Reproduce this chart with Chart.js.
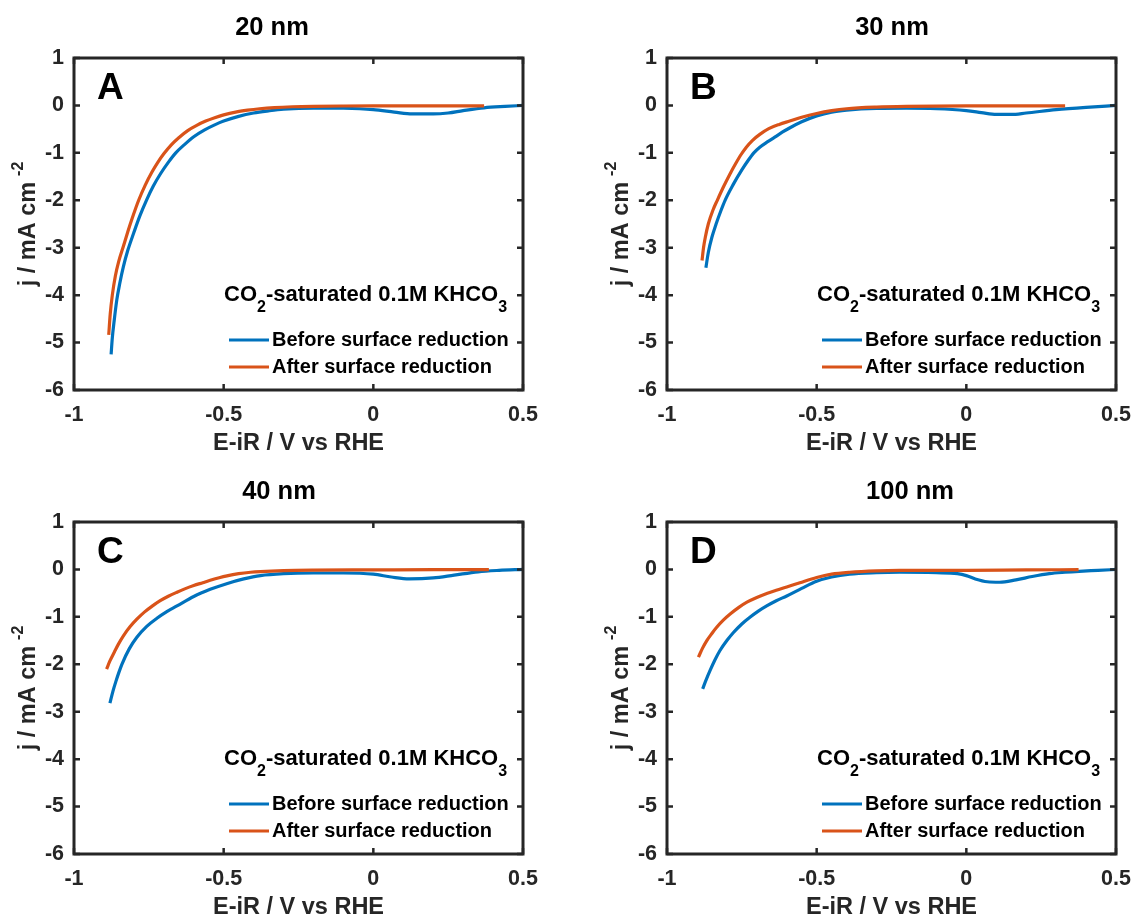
<!DOCTYPE html>
<html>
<head>
<meta charset="utf-8">
<title>Linear sweep voltammetry before and after surface reduction</title>
<script src="https://cdn.jsdelivr.net/npm/chart.js@4.4.1/dist/chart.umd.min.js"></script>
<style>
  html, body { margin: 0; padding: 0; background: #fff; }
  body { position: relative; width: 1135px; height: 919px; overflow: hidden; }
  .panel { position: absolute; width: 580px; height: 470px; }
  .panel canvas { display: block; }
</style>
</head>
<body>
<div class="panel" style="left:-26px; top:-2px;"><canvas id="panelA" width="580" height="470"></canvas></div>
<div class="panel" style="left:567px; top:-2px;"><canvas id="panelB" width="580" height="470"></canvas></div>
<div class="panel" style="left:-26px; top:462px;"><canvas id="panelC" width="580" height="470"></canvas></div>
<div class="panel" style="left:567px; top:462px;"><canvas id="panelD" width="580" height="470"></canvas></div>

<script>
// ---- Data: potential E-iR (V vs RHE) and current density j (mA cm^-2) ----

// 20 nm film
const E_20nm_before = [-0.876, -0.872, -0.866, -0.857, -0.847, -0.835, -0.82, -0.8, -0.78, -0.758, -0.735, -0.71, -0.685, -0.66, -0.63, -0.6, -0.565, -0.53, -0.5, -0.45, -0.4, -0.35, -0.3, -0.2, -0.1, 0, 0.07, 0.13, 0.2, 0.25, 0.3, 0.37, 0.44, 0.5];
const j_20nm_before = [-5.25, -4.9, -4.55, -4.1, -3.75, -3.4, -3.05, -2.68, -2.33, -2.0, -1.7, -1.43, -1.2, -1.0, -0.82, -0.66, -0.52, -0.41, -0.33, -0.23, -0.16, -0.115, -0.08, -0.055, -0.06, -0.09, -0.14, -0.18, -0.18, -0.16, -0.11, -0.05, -0.02, 0.0];
const E_20nm_after = [-0.884, -0.879, -0.872, -0.862, -0.851, -0.835, -0.82, -0.805, -0.784, -0.762, -0.74, -0.72, -0.7, -0.675, -0.65, -0.62, -0.59, -0.56, -0.53, -0.5, -0.46, -0.42, -0.38, -0.33, -0.27, -0.2, -0.1, 0, 0.2, 0.37];
const j_20nm_after = [-4.84, -4.4, -4.0, -3.6, -3.3, -2.97, -2.66, -2.37, -2.0, -1.68, -1.41, -1.2, -1.02, -0.83, -0.68, -0.53, -0.42, -0.33, -0.26, -0.2, -0.14, -0.1, -0.07, -0.045, -0.028, -0.018, -0.012, -0.01, -0.01, -0.01];

// 30 nm film
const E_30nm_before = [-0.87, -0.862, -0.85, -0.836, -0.82, -0.806, -0.78, -0.75, -0.728, -0.71, -0.69, -0.665, -0.64, -0.615, -0.589, -0.55, -0.5, -0.45, -0.4, -0.3, -0.2, -0.1, 0, 0.05, 0.1, 0.15, 0.2, 0.3, 0.4, 0.5];
const j_30nm_before = [-3.42, -3.1, -2.78, -2.5, -2.22, -2.0, -1.68, -1.36, -1.15, -1.0, -0.88, -0.77, -0.67, -0.565, -0.47, -0.345, -0.22, -0.14, -0.1, -0.065, -0.06, -0.07, -0.11, -0.15, -0.19, -0.19, -0.16, -0.09, -0.04, 0.0];
const E_30nm_after = [-0.883, -0.878, -0.872, -0.862, -0.846, -0.832, -0.81, -0.79, -0.77, -0.753, -0.735, -0.715, -0.69, -0.66, -0.625, -0.59, -0.55, -0.5, -0.45, -0.4, -0.3, -0.2, 0, 0.33];
const j_30nm_after = [-3.27, -3.0, -2.78, -2.5, -2.2, -2.0, -1.7, -1.45, -1.22, -1.04, -0.88, -0.74, -0.61, -0.49, -0.4, -0.33, -0.25, -0.17, -0.11, -0.07, -0.035, -0.02, -0.01, -0.01];

// 40 nm film
const E_40nm_before = [-0.88, -0.87, -0.86, -0.85, -0.84, -0.815, -0.79, -0.757, -0.723, -0.69, -0.656, -0.6, -0.545, -0.49, -0.433, -0.377, -0.3, -0.2, -0.1, 0, 0.06, 0.12, 0.2, 0.27, 0.35, 0.42, 0.5];
const j_40nm_before = [-2.82, -2.57, -2.36, -2.17, -2.0, -1.67, -1.43, -1.2, -1.03, -0.89, -0.77, -0.57, -0.42, -0.3, -0.2, -0.13, -0.09, -0.075, -0.075, -0.1, -0.16, -0.2, -0.18, -0.12, -0.05, -0.02, 0.0];
const E_40nm_after = [-0.891, -0.88, -0.865, -0.852, -0.835, -0.813, -0.79, -0.765, -0.74, -0.712, -0.685, -0.656, -0.63, -0.6, -0.57, -0.545, -0.515, -0.489, -0.45, -0.41, -0.377, -0.3, -0.2, 0, 0.2, 0.386];
const j_40nm_after = [-2.1, -1.93, -1.74, -1.58, -1.4, -1.21, -1.05, -0.9, -0.78, -0.66, -0.565, -0.48, -0.41, -0.34, -0.28, -0.23, -0.175, -0.135, -0.09, -0.06, -0.045, -0.025, -0.015, -0.01, -0.005, -0.005];

// 100 nm film
const E_100nm_before = [-0.881, -0.87, -0.856, -0.84, -0.823, -0.8, -0.778, -0.75, -0.723, -0.695, -0.667, -0.635, -0.6, -0.55, -0.5, -0.45, -0.39, -0.3, -0.223, -0.1, -0.03, 0, 0.03, 0.07, 0.111, 0.166, 0.22, 0.277, 0.33, 0.377, 0.44, 0.5];
const j_100nm_before = [-2.52, -2.34, -2.13, -1.91, -1.71, -1.5, -1.33, -1.15, -1.01, -0.88, -0.77, -0.66, -0.56, -0.4, -0.25, -0.16, -0.1, -0.07, -0.06, -0.07, -0.09, -0.13, -0.2, -0.26, -0.27, -0.22, -0.15, -0.09, -0.06, -0.04, -0.02, 0.0];
const E_100nm_after = [-0.895, -0.882, -0.867, -0.85, -0.834, -0.812, -0.789, -0.76, -0.733, -0.7, -0.667, -0.635, -0.6, -0.556, -0.5, -0.45, -0.39, -0.3, -0.223, -0.1, 0, 0.2, 0.375];
const j_100nm_after = [-1.85, -1.67, -1.5, -1.35, -1.22, -1.07, -0.94, -0.8, -0.69, -0.59, -0.51, -0.44, -0.37, -0.28, -0.17, -0.1, -0.06, -0.03, -0.02, -0.02, -0.02, -0.01, -0.005];

// Axis ticks and labels
const X_TICKS = [-1, -0.5, 0, 0.5];
const Y_TICKS = [-6, -5, -4, -3, -2, -1, 0, 1];
const SERIES_LABELS = ['Before surface reduction', 'After surface reduction'];
const PANEL_TITLES = ['20 nm', '30 nm', '40 nm', '100 nm'];
const PANEL_LETTERS = ['A', 'B', 'C', 'D'];
const X_TITLE = 'E-iR / V vs RHE';
const Y_TITLE = 'j / mA cm';
const Y_TITLE_SUP = '-2';
const ELECTROLYTE = [['CO', ''], ['2', 'sub'], ['-saturated 0.1M KHCO', ''], ['3', 'sub']];

// ---- Styling ----
const FONT = "'Liberation Sans', Arial, Helvetica, sans-serif";
const INK = '#262626';
const BLUE = '#0072BD';
const ORANGE = '#D95319';
const W = 580, H = 470;
const AREA = { left: 100, top: 60, right: 549, bottom: 392 };
const TICK_LEN = 6;

// Decorations: full box, inward ticks on all sides, titles, panel letter,
// y-axis title with superscript, electrolyte note and in-plot legend.
const panelDecor = {
  id: 'panelDecor',
  afterDatasetsDraw(chart, args, opts) {
    const { ctx, chartArea: a, scales: { x, y } } = chart;
    ctx.save();

    // inward tick marks
    ctx.strokeStyle = INK;
    ctx.lineWidth = 2.5;
    ctx.beginPath();
    x.ticks.forEach(t => {
      const px = x.getPixelForValue(t.value);
      ctx.moveTo(px, a.bottom); ctx.lineTo(px, a.bottom - TICK_LEN);
      ctx.moveTo(px, a.top); ctx.lineTo(px, a.top + TICK_LEN);
    });
    y.ticks.forEach(t => {
      const py = y.getPixelForValue(t.value);
      ctx.moveTo(a.left, py); ctx.lineTo(a.left + TICK_LEN, py);
      ctx.moveTo(a.right, py); ctx.lineTo(a.right - TICK_LEN, py);
    });
    ctx.stroke();

    // axes box
    ctx.lineWidth = 3;
    ctx.strokeRect(a.left, a.top, a.right - a.left, a.bottom - a.top);

    // panel title
    ctx.fillStyle = '#000';
    ctx.font = `bold 25.5px ${FONT}`;
    ctx.textAlign = 'center';
    ctx.textBaseline = 'middle';
    ctx.fillText(opts.title, (a.left + a.right) / 2 + opts.titleDx, a.top - 30);

    // panel letter
    ctx.font = `bold 37px ${FONT}`;
    ctx.textAlign = 'left';
    ctx.textBaseline = 'alphabetic';
    ctx.fillText(opts.letter, a.left + 23, a.top + 41);

    // y-axis title with superscript
    ctx.save();
    ctx.fillStyle = INK;
    ctx.translate(a.left - 39, (a.top + a.bottom) / 2);
    ctx.rotate(-Math.PI / 2);
    ctx.font = `bold 23.5px ${FONT}`;
    const w1 = ctx.measureText(Y_TITLE).width;
    ctx.font = `bold 16px ${FONT}`;
    const w2 = ctx.measureText(Y_TITLE_SUP).width;
    const gap = 6;
    const x0 = -(w1 + gap + w2) / 2;
    ctx.font = `bold 23.5px ${FONT}`;
    ctx.fillText(Y_TITLE, x0, 0);
    ctx.font = `bold 16px ${FONT}`;
    ctx.fillText(Y_TITLE_SUP, x0 + w1 + gap, -12);
    ctx.restore();

    // electrolyte note with subscripts
    ctx.fillStyle = '#000';
    let tx = a.right - 299;
    const ty = a.top + 243;
    ELECTROLYTE.forEach(([txt, kind]) => {
      ctx.font = kind === 'sub' ? `bold 16px ${FONT}` : `bold 22px ${FONT}`;
      ctx.fillText(txt, tx, kind === 'sub' ? ty + 11 : ty);
      tx += ctx.measureText(txt).width;
    });

    // legend
    ctx.font = `bold 20px ${FONT}`;
    ctx.textBaseline = 'middle';
    chart.data.datasets.forEach((ds, i) => {
      const ly = a.top + 282 + i * 27;
      ctx.strokeStyle = ds.borderColor;
      ctx.lineWidth = 3;
      ctx.beginPath();
      ctx.moveTo(a.right - 294, ly);
      ctx.lineTo(a.right - 254, ly);
      ctx.stroke();
      ctx.fillStyle = '#000';
      ctx.fillText(ds.label, a.right - 251, ly);
    });

    ctx.restore();
  }
};

function pairs(xs, ys) {
  return xs.map((v, i) => ({ x: v, y: ys[i] }));
}

function makePanel(canvasId, idx, before, after, titleDx) {
  const tickFont = { family: FONT, size: 21.5, weight: 'bold' };
  const titleFont = { family: FONT, size: 23.5, weight: 'bold' };
  return new Chart(document.getElementById(canvasId), {
    type: 'line',
    data: {
      datasets: [
        { label: SERIES_LABELS[0], data: pairs(before[0], before[1]), borderColor: BLUE, order: 2 },
        { label: SERIES_LABELS[1], data: pairs(after[0], after[1]), borderColor: ORANGE, order: 1 }
      ]
    },
    options: {
      responsive: false,
      animation: false,
      devicePixelRatio: 1,
      parsing: false,
      layout: {
        autoPadding: false,
        padding: { left: 0, top: AREA.top, right: W - AREA.right, bottom: 0 }
      },
      elements: {
        point: { radius: 0 },
        line: { borderWidth: 3.2, cubicInterpolationMode: 'monotone', fill: false }
      },
      plugins: {
        legend: { display: false },
        tooltip: { enabled: false },
        panelDecor: { title: PANEL_TITLES[idx], letter: PANEL_LETTERS[idx], titleDx: titleDx }
      },
      scales: {
        x: {
          type: 'linear', min: -1, max: 0.5,
          afterBuildTicks: s => { s.ticks = X_TICKS.map(v => ({ value: v })); },
          afterFit: s => { s.height = H - AREA.bottom; },
          ticks: { callback: v => String(v), font: tickFont, color: INK, padding: 12, maxRotation: 0, autoSkip: false },
          grid: { display: false, drawTicks: false },
          border: { display: false },
          title: { display: true, text: X_TITLE, font: titleFont, color: INK, padding: { top: 0, bottom: 10 } }
        },
        y: {
          type: 'linear', min: -6, max: 1,
          afterBuildTicks: s => { s.ticks = Y_TICKS.map(v => ({ value: v })); },
          afterFit: s => { s.width = AREA.left; },
          ticks: { callback: v => String(v), font: tickFont, color: INK, padding: 10, autoSkip: false },
          grid: { display: false, drawTicks: false },
          border: { display: false }
        }
      }
    },
    plugins: [panelDecor]
  });
}

makePanel('panelA', 0, [E_20nm_before, j_20nm_before], [E_20nm_after, j_20nm_after], -26.5);
makePanel('panelB', 1, [E_30nm_before, j_30nm_before], [E_30nm_after, j_30nm_after], 0.5);
makePanel('panelC', 2, [E_40nm_before, j_40nm_before], [E_40nm_after, j_40nm_after], -19.5);
makePanel('panelD', 3, [E_100nm_before, j_100nm_before], [E_100nm_after, j_100nm_after], 18.5);
</script>
</body>
</html>
